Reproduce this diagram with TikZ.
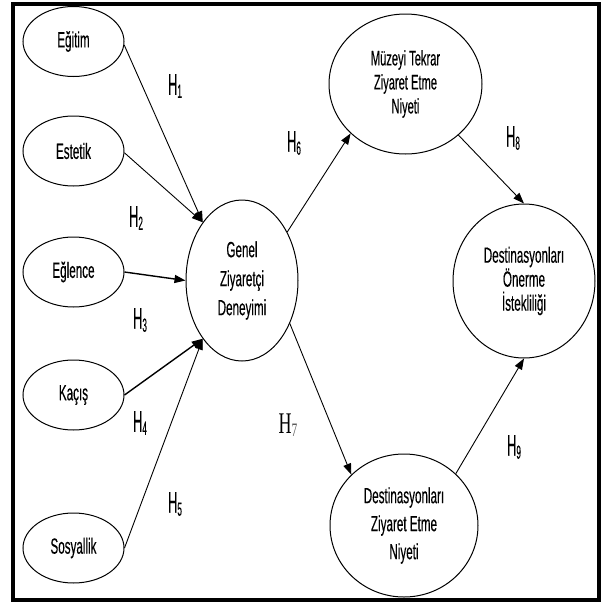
\documentclass[tikz,border=0pt]{standalone}
\usepackage{fontspec}
\setmainfont{Liberation Sans}
\newfontfamily\narrowfont[FakeStretch=0.53,FakeBold=0.3]{Liberation Sans}
\newfontfamily\hfont[FakeStretch=0.43,FakeBold=0.3]{Liberation Sans}
\newfontfamily\hseriffont[FakeStretch=0.6]{Liberation Serif}
\usetikzlibrary{shapes.geometric,arrows.meta}
\newcommand{\hlab}[1]{{\hfont\fontsize{30}{30}\selectfont H\raisebox{-3pt}{\fontsize{19}{19}\selectfont #1}}}
\newcommand{\hserlab}[1]{{\hseriffont\fontsize{30}{30}\selectfont H\raisebox{-3pt}{\fontsize{19}{19}\selectfont\color{black!65}#1}}}
\begin{document}
\begin{tikzpicture}[x=1pt,y=-1pt,
  var/.style={draw, ellipse, line width=1pt, inner sep=0pt, align=center,
    font=\narrowfont\fontsize{22}{26}\selectfont},
  arr/.style={-{Triangle[length=11pt,width=8pt]}, line width=0.9pt},
  arrb/.style={arr, line width=1.4pt},
  hl/.style={inner sep=0pt}]
\useasboundingbox (0,0) rectangle (601,603);
\draw[line width=4pt] (13,4) rectangle (599,600);

% left variables
\node[var, minimum width=101pt, minimum height=70pt] (egitim) at (73.5,41.5) {Eğitim};
\node[var, minimum width=101pt, minimum height=70pt] (estetik) at (73.5,151) {Estetik};
\node[var, minimum width=101pt, minimum height=70pt] (eglence) at (73.5,272) {Eğlence};
\node[var, minimum width=101pt, minimum height=70pt] (kacis) at (73.5,395) {Kaçış};
\node[var, minimum width=101pt, minimum height=70pt] (sosyallik) at (73.5,548) {Sosyallik};

% central and right variables
\node[var, minimum width=112pt, minimum height=161pt, font=\narrowfont\fontsize{22}{29}\selectfont] (genel) at (242,280.5) {Genel\\Ziyaretçi\\Deneyimi};
\node[var, minimum width=153pt, minimum height=140pt, font=\narrowfont\fontsize{21}{24}\selectfont] (muze) at (405.5,84) {Müzeyi Tekrar\\Ziyaret Etme\\Niyeti};
\node[var, minimum width=142pt, minimum height=154pt, font=\narrowfont\fontsize{22}{24}\selectfont] (onerme) at (524,281) {Destinasyonları\\Önerme\\İstekliliği};
\node[var, minimum width=148pt, minimum height=143pt, font=\narrowfont\fontsize{22}{28}\selectfont] (dz) at (404,525.5) {Destinasyonları\\Ziyaret Etme\\Niyeti};

% connectors
\draw[arr]  (egitim.-4)   -- (genel.124);
\draw[arr]  (estetik.-2)  -- (genel.124);
\draw[arrb] (eglence.east) -- (genel.west);
\draw[arrb] (kacis.east)  -- (genel.236);
\draw[arr]  (sosyallik.east) -- (genel.236);
\draw[arr]  (genel.47)    -- (muze.222);
\draw[arr]  (muze.316)    -- (onerme.north);
\draw[arr]  (genel.-42)   -- (dz.136);
\draw[arr]  (dz.45)       -- (onerme.south);

% labels
\node[hl] (h1) at (175,86) {\hlab{1}};
\node[hl] (h2) at (136,218) {\hlab{2}};
\node[hl] (h3) at (140,320) {\hlab{3}};
\node[hl] (h4) at (140,423) {\hlab{4}};
\node[hl] (h5) at (175,504) {\hlab{5}};
\node[hl] (h6) at (294,143) {\hlab{6}};
\node[hl] (h7) at (288,425) {\hserlab{7}};
\node[hl] (h8) at (513,138) {\hlab{8}};
\node[hl] (h9) at (514,447) {\hlab{9}};
\end{tikzpicture}
\end{document}
